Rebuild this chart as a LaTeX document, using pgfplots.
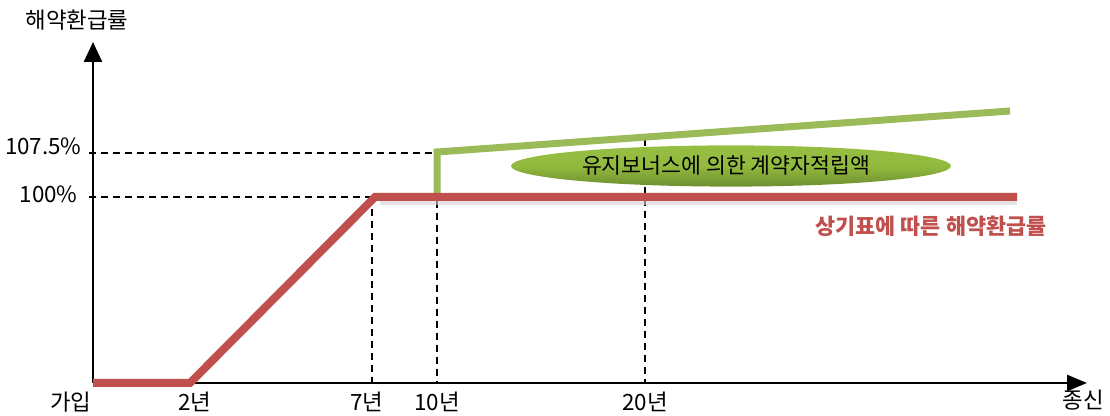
\documentclass[border=0pt]{standalone}
\usepackage{fontspec}
\setmainfont{Noto Sans CJK KR}
\usepackage{pgfplots}
\pgfplotsset{compat=1.18}
\usetikzlibrary{arrows.meta}
\definecolor{redline}{RGB}{192,80,77}
\definecolor{greenline}{RGB}{155,187,89}
\definecolor{elltop}{RGB}{150,190,66}
\definecolor{ellmid}{RGB}{146,186,62}
\definecolor{ellbot}{RGB}{110,142,48}
\tikzset{lbl/.style={font=\fontsize{11.2}{13}\selectfont, inner sep=0pt}}
\begin{document}
\begin{tikzpicture}
\begin{axis}[
  width=555pt, height=208pt, scale only axis,
  xmin=0, xmax=1110, ymin=0, ymax=416,
  hide axis, clip=false,
]
% bounding box of the whole canvas
\path (axis cs:0,0) rectangle (axis cs:1110,416);

% dashed guide lines
\addplot[black, line width=0.9pt, dash pattern=on 3.5pt off 2.5pt] coordinates {(89,263) (437,263)};
\addplot[black, line width=0.9pt, dash pattern=on 3.5pt off 2.5pt] coordinates {(89,219) (372,219)};
\addplot[black, line width=0.9pt, dash pattern=on 3.5pt off 2.5pt] coordinates {(372,219) (372,33)};
\addplot[black, line width=0.9pt, dash pattern=on 3.5pt off 2.5pt] coordinates {(437,263) (437,33)};
\addplot[black, line width=0.9pt, dash pattern=on 3.5pt off 2.5pt] coordinates {(645,277) (645,33)};

% axes
\draw[black, line width=1.3pt, -{Triangle[length=10pt,width=9pt]}] (axis cs:93,33) -- (axis cs:93,374);
\draw[black, line width=1.3pt, -{Triangle[length=10pt,width=8pt]}] (axis cs:93,33) -- (axis cs:1087,33);

% shadow of the red line
\addplot[gray!35, line width=3pt, opacity=0.6] coordinates {(380,214) (1017,214)};

% green line (bonus)
\addplot[greenline, line width=3.5pt, line join=miter] coordinates {(437,221) (437,264) (1010,305)};

% red line (surrender value)
\addplot[redline, line width=4pt, line join=miter] coordinates {(93,33) (190,33) (375,219) (1017,219)};

% ellipse label
\shade[top color=elltop, bottom color=ellbot, middle color=ellmid]
  (axis cs:731,250) ellipse [x radius=110pt, y radius=10.3pt];
\node[font=\fontsize{10.8}{13}\selectfont, inner sep=0pt] at (axis cs:726,251) {유지보너스에 의한 계약자적립액};

% red label
\node[text=redline, font=\fontsize{10.9}{13}\selectfont\bfseries, inner sep=0pt] at (axis cs:931,190) {상기표에 따른 해약환급률};

% axis labels
\node[lbl] at (axis cs:77,396) {해약환급률};
\node[lbl, anchor=east] at (axis cs:82,270) {107.5\%};
\node[lbl, anchor=east] at (axis cs:78,222) {100\%};
\node[lbl] at (axis cs:71,14) {가입};
\node[lbl] at (axis cs:195,14) {2년};
\node[lbl] at (axis cs:367,14) {7년};
\node[lbl] at (axis cs:437,14) {10년};
\node[lbl] at (axis cs:645,14) {20년};
\node[lbl] at (axis cs:1083,16) {종신};
\end{axis}
\end{tikzpicture}
\end{document}
